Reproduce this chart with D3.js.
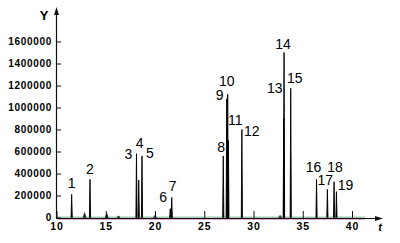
<!DOCTYPE html>
<html>
<head>
<meta charset="utf-8">
<script src="https://cdn.jsdelivr.net/npm/d3@7"></script>
<style>
  body { margin: 0; background: #fff; }
  svg { display: block; }
</style>
</head>
<body>
<svg id="chart" width="400" height="243"></svg>
<script>
// labelled peaks: number, retention time (min), height
let peakIds = ["1","2","3","4","5","6","7","8","9","10","11","12","13","14","15","16","17","18","19"];
let peakTimes = [11.54, 13.4, 18.12, 18.35, 18.68, 21.55, 21.7, 26.93, 27.28, 27.38, 27.45, 28.82, 33.07, 33.1, 33.78, 36.4, 37.5, 38.18, 38.42];
let peakHeights = [210000, 347000, 580000, 340000, 560000, 80000, 182000, 560000, 1080000, 1120000, 700000, 800000, 900000, 1500000, 1175000, 347000, 256000, 325000, 235000];

// small unlabelled bumps on the baseline
let minorTimes = [12.85, 15.1, 16.3, 20.0, 32.7];
let minorHeights = [45000, 40000, 15000, 20000, 20000];

let xTicks = [10, 15, 20, 25, 30, 35, 40];
let yTicks = [0, 200000, 400000, 600000, 800000, 1000000, 1200000, 1400000, 1600000];

// label offsets (px) from the top of each peak
let labelShift = [[0,-6],[0,-5],[-8,5],[1,-32],[8,2],[-7,-7],[1,-6],[-2,-4],[-7,1],[-1,-8],[7,-16],[10,6],[-9,-26],[-1,-4],[4,-5],[-3,-7],[-2,-4],[1,-10],[9,-2]];

let svg = d3.select("#chart");
let axisColor = "#111111";

let x = d3.scaleLinear().domain([10, 40]).range([56.5, 352]);
let y = d3.scaleLinear().domain([0, 1600000]).range([217.5, 41.5]);

// baseline traces
svg.append("line")
  .attr("x1", 57).attr("x2", 365)
  .attr("y1", 219.2).attr("y2", 219.2)
  .attr("stroke", "#d67fc9").attr("stroke-width", 1);
svg.append("line")
  .attr("x1", 57).attr("x2", 365)
  .attr("y1", y(3000)).attr("y2", y(3000))
  .attr("stroke", "#4f9a6a").attr("stroke-width", 0.8);

function peakPath(t, h, w)
{
  return "M" + x(t - w) + "," + y(0) + "L" + x(t) + "," + y(h) + "L" + x(t + w) + "," + y(0) + "Z";
}

svg.append("g").selectAll("path")
  .data(minorTimes)
  .join("path")
  .attr("d", (d, i) => peakPath(d, minorHeights[i], 0.15))
  .attr("fill", "#222")
  .attr("stroke", "#222")
  .attr("stroke-width", 0.6);

svg.append("g").selectAll("path")
  .data(peakTimes)
  .join("path")
  .attr("d", (d, i) => peakPath(d, peakHeights[i], 0.06))
  .attr("fill", "#000")
  .attr("stroke", "#000")
  .attr("stroke-width", 0.9)
  .attr("stroke-linejoin", "miter");

// axes
let yAxis = d3.axisLeft(y).tickValues(yTicks).tickFormat(d3.format("d"))
  .tickSizeInner(-5).tickSizeOuter(0).tickPadding(4);
let gy = svg.append("g").attr("transform", "translate(56,0)").call(yAxis);
gy.select(".domain").remove();
gy.selectAll("line").attr("stroke", axisColor);
gy.selectAll("text")
  .attr("font-family", "Liberation Sans, Arial, sans-serif")
  .attr("font-size", 10)
  .attr("font-weight", "bold")
  .attr("letter-spacing", 0.7)
  .attr("fill", "#000");

let xAxis = d3.axisBottom(x).tickValues(xTicks).tickFormat(d3.format("d"))
  .tickSizeInner(-7).tickSizeOuter(0).tickPadding(5);
let gx = svg.append("g").attr("transform", "translate(0,218)").call(xAxis);
gx.select(".domain").remove();
gx.selectAll("line").attr("stroke", axisColor);
gx.selectAll("text")
  .attr("font-family", "Liberation Sans, Arial, sans-serif")
  .attr("font-size", 10.5)
  .attr("font-weight", "bold")
  .attr("letter-spacing", 0.8)
  .attr("fill", "#000");

// axis lines with arrows
svg.append("line").attr("x1", 56.5).attr("x2", 56.5).attr("y1", 218).attr("y2", 10)
  .attr("stroke", axisColor).attr("stroke-width", 1.2);
svg.append("path").attr("d", "M56.5,7L54,15L59,15Z").attr("fill", axisColor);
svg.append("line").attr("x1", 56).attr("x2", 380).attr("y1", 218.5).attr("y2", 218.5)
  .attr("stroke", axisColor).attr("stroke-width", 1.2);
svg.append("path").attr("d", "M383,218.5L375,216L375,221Z").attr("fill", axisColor);

svg.append("text")
  .attr("x", 44).attr("y", 19.5)
  .attr("text-anchor", "middle")
  .attr("font-family", "Liberation Sans, Arial, sans-serif")
  .attr("font-size", 13).attr("font-weight", "bold")
  .text("Y");
svg.append("text")
  .attr("x", 380).attr("y", 231)
  .attr("text-anchor", "middle")
  .attr("font-family", "Liberation Sans, Arial, sans-serif")
  .attr("font-size", 11).attr("font-style", "italic").attr("font-weight", "bold")
  .text("t");

// peak numbers
svg.append("g").selectAll("text")
  .data(peakIds)
  .join("text")
  .attr("x", (d, i) => x(peakTimes[i]) + labelShift[i][0])
  .attr("y", (d, i) => y(peakHeights[i]) + labelShift[i][1])
  .attr("text-anchor", "middle")
  .attr("font-family", "Liberation Sans, Arial, sans-serif")
  .attr("font-size", 14)
  .attr("fill", "#000")
  .text(d => d);
</script>
</body>
</html>
